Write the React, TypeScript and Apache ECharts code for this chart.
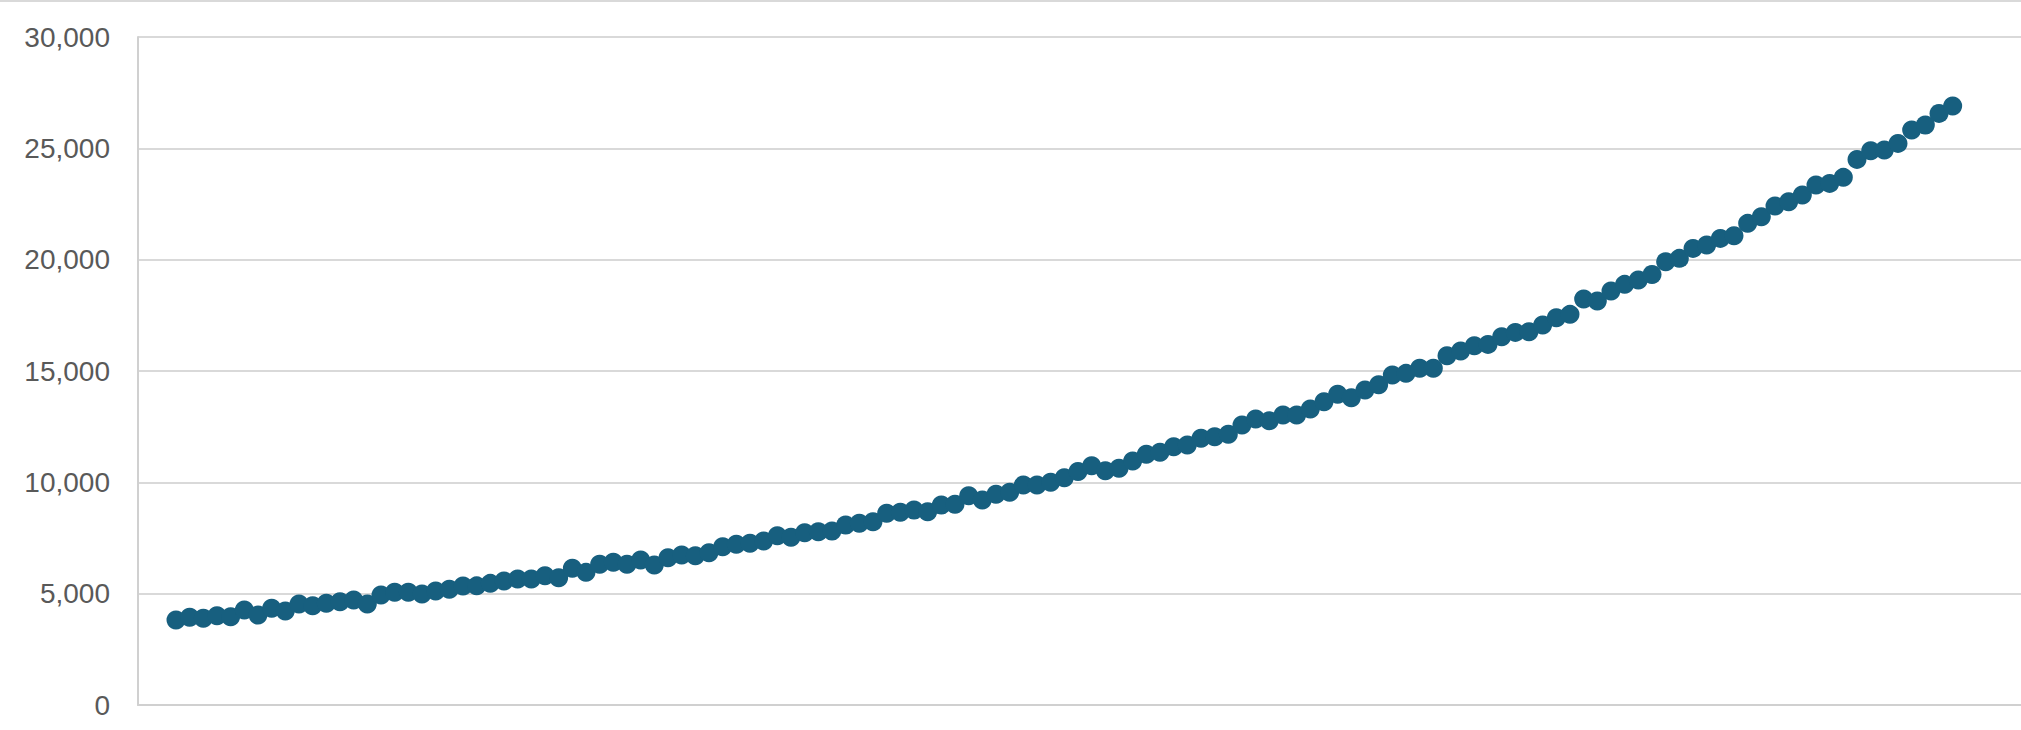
import React, { useEffect, useRef } from "react";
import * as echarts from "echarts";

// Series values, in order (131 points)
const values: number[] = [
  3817, 3938, 3893, 4010, 3965, 4266, 4041, 4342, 4221, 4535,
  4459, 4567, 4639, 4715, 4535, 4939, 5061, 5061, 4984, 5119,
  5195, 5344, 5350, 5463, 5568, 5658, 5658, 5807, 5718, 6137,
  5957, 6317, 6407, 6317, 6511, 6286, 6615, 6736, 6705, 6840,
  7110, 7215, 7260, 7364, 7600, 7530, 7737, 7782, 7813, 8083,
  8159, 8231, 8608, 8653, 8756, 8680, 8981, 9012, 9398, 9205,
  9461, 9551, 9879, 9879, 10000, 10207, 10490, 10747, 10522, 10629,
  10957, 11257, 11347, 11600, 11675, 11976, 12049, 12155, 12573, 12843,
  12766, 13022, 13022, 13291, 13620, 13952, 13799, 14145, 14385, 14818,
  14894, 15119, 15119, 15685, 15896, 16135, 16195, 16538, 16734, 16764,
  17063, 17392, 17544, 18231, 18141, 18590, 18891, 19084, 19338, 19906,
  20058, 20507, 20656, 20956, 21074, 21630, 21927, 22407, 22600, 22901,
  23350, 23426, 23696, 24504, 24891, 24921, 25222, 25820, 26044, 26569,
  26897,
];

const yTicks: number[] = [0, 5000, 10000, 15000, 20000, 25000, 30000];

export default function App() {
  const ref = useRef<HTMLDivElement>(null);

  useEffect(() => {
    if (!ref.current) return;
    const chart = echarts.init(ref.current, undefined, { renderer: "svg" });
    const data = values.map((v, i) => [i, v]);
    chart.setOption({
      animation: false,
      backgroundColor: "#ffffff",
      grid: { left: 138, right: 0, top: 37, bottom: 25, containLabel: false },
      xAxis: {
        type: "value",
        min: -2.78,
        max: 135,
        axisLine: { show: true, onZero: false, lineStyle: { color: "#d0d0d0", width: 2 } },
        axisTick: { show: false },
        axisLabel: { show: false },
        splitLine: { show: false },
      },
      yAxis: {
        type: "value",
        min: yTicks[0],
        max: yTicks[yTicks.length - 1],
        interval: 5000,
        axisLine: { show: true, onZero: false, lineStyle: { color: "#d0d0d0", width: 2 } },
        axisTick: { show: false },
        axisLabel: {
          margin: 28,
          color: "#595959",
          fontSize: 28,
          fontFamily: "Liberation Sans, Arial, sans-serif",
          formatter: (v: number) => v.toLocaleString("en-US"),
        },
        splitLine: { show: true, lineStyle: { color: "#d9d9d9", width: 2 } },
      },
      graphic: [
        {
          type: "line",
          shape: { x1: 0, y1: 1, x2: 2021, y2: 1 },
          style: { stroke: "#d9d9d9", lineWidth: 2 },
          silent: true,
        },
      ],
      series: [
        {
          type: "scatter",
          data,
          symbol: "circle",
          symbolSize: 19,
          itemStyle: { color: "#175f7f", opacity: 1 },
        },
      ],
    });
    return () => chart.dispose();
  }, []);

  return (
    <div
      ref={ref}
      style={{ position: "fixed", left: 0, top: 0, width: 2021, height: 730 }}
    />
  );
}
